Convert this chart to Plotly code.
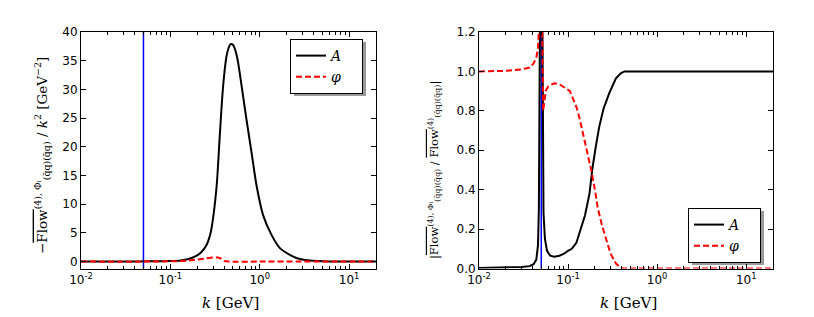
import plotly.graph_objects as go

# ---------------- data ----------------
k_left_A = [0.01, 0.03, 0.06, 0.1, 0.13, 0.16, 0.19, 0.22, 0.254, 0.28, 0.30, 0.33,
            0.357, 0.389, 0.424, 0.45, 0.471, 0.50, 0.526, 0.56, 0.598, 0.65, 0.71,
            0.81, 0.92, 1.09, 1.35, 1.67, 2.1, 2.57, 3.2, 3.9, 5.0, 8.0, 20.0]
v_left_A = [0.02, 0.03, 0.05, 0.1, 0.2, 0.45, 0.9, 1.6, 2.9, 4.8, 7.5, 13.3,
            21.9, 30.5, 35.7, 37.3, 37.9, 37.8, 37.1, 35.5, 32.8, 28.9, 24.8,
            19.0, 13.3, 8.1, 4.7, 2.4, 1.3, 0.63, 0.3, 0.17, 0.08, 0.03, 0.01]

k_left_phi = [0.01, 0.05, 0.1, 0.15, 0.2, 0.25, 0.3, 0.34, 0.37, 0.4, 0.45, 1.0, 20.0]
v_left_phi = [0.0, 0.0, 0.05, 0.15, 0.35, 0.55, 0.7, 0.72, 0.5, 0.1, 0.0, 0.0, 0.0]

k_right_A = [0.01, 0.02, 0.03, 0.037, 0.041, 0.044, 0.046, 0.047, 0.048, 0.0487, 0.049,
             0.0505, 0.051, 0.0515, 0.052, 0.053, 0.055, 0.058, 0.063, 0.07, 0.08, 0.09,
             0.1, 0.11, 0.124, 0.14, 0.155, 0.174, 0.188, 0.205, 0.224, 0.25, 0.29,
             0.345, 0.39, 0.43, 1.0, 20.0]
v_right_A = [0.003, 0.005, 0.008, 0.012, 0.022, 0.045, 0.12, 0.3, 0.8, 1.5, 3.0,
             3.0, 1.5, 0.9, 0.5, 0.28, 0.15, 0.09, 0.065, 0.06, 0.065, 0.075,
             0.09, 0.1, 0.13, 0.2, 0.27, 0.38, 0.51, 0.62, 0.72, 0.81, 0.89,
             0.965, 0.99, 1.0, 1.0, 1.0]

k_right_phi = [0.01, 0.02, 0.03, 0.037, 0.041, 0.044, 0.046, 0.047, 0.048, 0.049,
               0.0505, 0.051, 0.0515, 0.052, 0.0525, 0.054, 0.056, 0.06, 0.07, 0.08,
               0.09, 0.105, 0.124, 0.135, 0.147, 0.165, 0.182, 0.2, 0.215, 0.24,
               0.267, 0.3, 0.345, 0.38, 0.41, 1.0, 20.0]
v_right_phi = [1.0, 1.003, 1.01, 1.02, 1.04, 1.07, 1.12, 1.17, 1.3, 2.0,
               2.0, 1.3, 1.0, 0.85, 0.8, 0.84, 0.9, 0.925, 0.94, 0.935,
               0.92, 0.9, 0.82, 0.76, 0.685, 0.59, 0.5, 0.4, 0.31, 0.22,
               0.144, 0.075, 0.025, 0.008, 0.0, 0.0, 0.0]

k_marker = [0.05, 0.05]
y_marker_left = [-2, 45]
y_marker_right = [-0.1, 1.5]

x_tickvals = [0.01, 0.1, 1, 10]
x_ticktext = ["10<sup>-2</sup>", "10<sup>-1</sup>", "10<sup>0</sup>", "10<sup>1</sup>"]
x_minor = [m * d for d in (0.01, 0.1, 1, 10) for m in range(2, 10) if m * d <= 20]
y_left_ticks = [0, 5, 10, 15, 20, 25, 30, 35, 40]
y_right_ticks = [0.0, 0.2, 0.4, 0.6, 0.8, 1.0, 1.2]
y_right_text = ["%.1f" % v for v in y_right_ticks]
legend_names = ["<i>A</i>", "<i>φ</i>"]

# ---------------- figure ----------------
W, H = 814, 317
fig = go.Figure()

pad = "\u00a0\u00a0\u00a0"
dash = "6px,3px"
fig.add_trace(go.Scatter(x=k_marker, y=y_marker_left, mode="lines",
                         line=dict(color="#0000ff", width=1.5), showlegend=False,
                         xaxis="x", yaxis="y"))
fig.add_trace(go.Scatter(x=k_left_A, y=v_left_A, mode="lines", name=legend_names[0] + pad,
                         line=dict(color="black", width=2, shape="spline", smoothing=0.8),
                         xaxis="x", yaxis="y", legend="legend"))
fig.add_trace(go.Scatter(x=k_left_phi, y=v_left_phi, mode="lines", name=legend_names[1] + pad,
                         line=dict(color="#ff0000", width=2, dash=dash, shape="spline", smoothing=0.6),
                         xaxis="x", yaxis="y", legend="legend"))

fig.add_trace(go.Scatter(x=k_marker, y=y_marker_right, mode="lines",
                         line=dict(color="#0000ff", width=1.5), showlegend=False,
                         xaxis="x2", yaxis="y2"))
fig.add_trace(go.Scatter(x=k_right_A, y=v_right_A, mode="lines", name=legend_names[0] + pad,
                         line=dict(color="black", width=2),
                         xaxis="x2", yaxis="y2", legend="legend2"))
fig.add_trace(go.Scatter(x=k_right_phi, y=v_right_phi, mode="lines", name=legend_names[1] + pad,
                         line=dict(color="#ff0000", width=2, dash=dash),
                         xaxis="x2", yaxis="y2", legend="legend2"))

tickfont = dict(family="DejaVu Sans", size=12, color="black")

def xax(domain, anchor):
    return dict(type="log", range=[-2, 1.301], domain=domain, anchor=anchor,
                tickvals=x_tickvals, ticktext=x_ticktext, ticks="inside", ticklen=5,
                tickcolor="black", showline=True, linecolor="black", linewidth=1,
                mirror="ticks", showgrid=False, zeroline=False, tickfont=tickfont,
                automargin=False,
                minor=dict(tickvals=x_minor, ticks="inside", ticklen=2.5,
                           tickcolor="black", showgrid=False))

def yax(domain, anchor, rng, tv, tt=None):
    d = dict(range=rng, domain=domain, anchor=anchor, tickvals=tv, ticks="inside",
             ticklen=5, tickcolor="black", showline=True, linecolor="black",
             linewidth=1, mirror="ticks", showgrid=False, zeroline=False,
             tickfont=tickfont, automargin=False)
    if tt is not None:
        d["ticktext"] = tt
    return d

# legend boxes (left, top, right, bottom) in pixels
leg1 = (291, 39, 363, 93)
leg2 = (689, 208, 761, 262)
legfont = dict(family="DejaVu Serif", size=14, color="black")

ydom = [1 - 268.5 / H, 1 - 32 / H]
fig.update_layout(
    template="none",
    width=W, height=H, margin=dict(l=0, r=0, t=0, b=0, pad=0, autoexpand=False),
    paper_bgcolor="white", plot_bgcolor="white",
    xaxis=xax([81 / W, 376 / W], "y"),
    yaxis=yax(ydom, "x", [-1.2, 40], y_left_ticks),
    xaxis2=xax([479 / W, 773 / W], "y2"),
    yaxis2=yax(ydom, "x2", [0, 1.2], y_right_ticks, y_right_text),
    legend=dict(x=leg1[2] / W, y=1 - leg1[1] / H, xanchor="right", yanchor="top",
                bordercolor="black", borderwidth=1, bgcolor="white", font=legfont),
    legend2=dict(x=leg2[2] / W, y=1 - leg2[1] / H, xanchor="right", yanchor="top",
                 bordercolor="black", borderwidth=1, bgcolor="white", font=legfont),
)

# legend shadows
for (x0, y0, x1, y1) in [leg1, leg2]:
    fig.add_shape(type="rect", xref="paper", yref="paper",
                  x0=(x0 + 3) / W, x1=(x1 + 3) / W, y0=1 - (y1 + 3) / H, y1=1 - (y0 + 3) / H,
                  fillcolor="rgba(0,0,0,0.4)", line=dict(width=0), layer="above")

flow = "<span style='text-decoration:overline'>Flow</span>"
left_title = ("−" + flow + "<sup>(4), Φᵢ</sup><sub>(q̄q)(q̄q)</sub> / <i>k</i><sup>2</sup> [GeV<sup>−2</sup>]")
right_title = ("|" + flow + "<sup>(4), Φᵢ</sup><sub>(q̄q)(q̄q)</sub> / " + flow +
               "<sup>(4)</sup><sub>(q̄q)(q̄q)</sub>|")
fig.add_annotation(text=left_title, xref="paper", yref="paper", x=42 / W, y=1 - 156 / H,
                   textangle=-90, showarrow=False,
                   font=dict(family="DejaVu Serif", size=13.5, color="black"),
                   xanchor="center", yanchor="middle")
fig.add_annotation(text=right_title, xref="paper", yref="paper", x=434 / W, y=1 - 170 / H,
                   textangle=-90, showarrow=False,
                   font=dict(family="DejaVu Serif", size=11.5, color="black"),
                   xanchor="center", yanchor="middle")
for cx in (230, 628):
    fig.add_annotation(text="<i>k</i> [GeV]", xref="paper", yref="paper", x=cx / W, y=1 - 303 / H,
                       showarrow=False, font=dict(family="DejaVu Serif", size=15, color="black"),
                       xanchor="center", yanchor="middle")

fig.write_html("out.html", config={"displayModeBar": False},
               post_script="document.body.style.margin='0';")
